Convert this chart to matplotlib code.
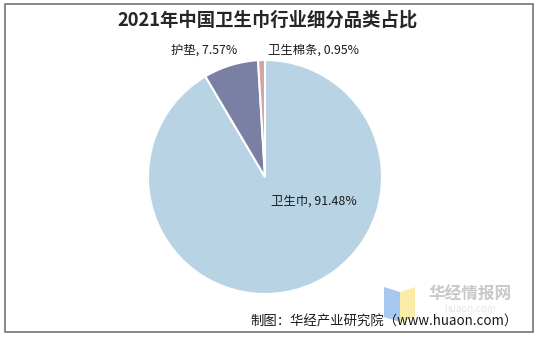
import matplotlib
matplotlib.use("Agg")
import matplotlib.pyplot as plt
from matplotlib.patches import Rectangle, Polygon

plt.rcParams['font.family'] = ['Noto Sans CJK SC', 'DejaVu Sans']

categories = ["卫生巾", "护垫", "卫生棉条"]
values = [91.48, 7.57, 0.95]
colors = ["#B8D3E4", "#7A80A3", "#D4A3A3"]
title = "2021年中国卫生巾行业细分品类占比"
source = "制图：华经产业研究院（www.huaon.com）"

W, H = 539, 342
fig = plt.figure(figsize=(W / 100, H / 100), dpi=100)

def fx(px):
    return px / W

def fy(py):
    return 1 - py / H

# border
fig.patches.append(Rectangle((fx(5), fy(332)), fx(533) - fx(5), fy(4) - fy(332),
                             transform=fig.transFigure, fill=False,
                             edgecolor="#7F7F7F", linewidth=1.3))

cx, cy, r = 265, 177, 117
ax = fig.add_axes([fx(cx - r), fy(cy + r), 2 * r / W, 2 * r / H])
wedges, _ = ax.pie(values, colors=colors, startangle=90, counterclock=False,
                   wedgeprops=dict(edgecolor="white", linewidth=1.5))
ax.set_aspect("equal")
ax.set_xlim(-1, 1)
ax.set_ylim(-1, 1)
ax.axis("off")

fig.text(fx(268), fy(20), title, ha="center", va="center", fontsize=13.2,
         fontweight="bold", color="#262626")

label_pos = [(314, 201), (204, 50), (314, 50)]
for cat, val, (px, py) in zip(categories, values, label_pos):
    fig.text(fx(px), fy(py), f"{cat}, {val:.2f}%", ha="center", va="center",
             fontsize=8.9, color="#1a1a1a")

# watermark logo
blue = Polygon([[fx(384), fy(287)], [fx(400), fy(292)], [fx(400), fy(322)], [fx(384), fy(317)]],
               closed=True, transform=fig.transFigure, facecolor="#9EC3F0", edgecolor="none", alpha=0.9)
yellow = Polygon([[fx(400), fy(292)], [fx(415), fy(287)], [fx(415), fy(317)], [fx(400), fy(322)]],
                 closed=True, transform=fig.transFigure, facecolor="#FBE9A0", edgecolor="none", alpha=0.9)
fig.patches.extend([blue, yellow])
fig.text(fx(470), fy(295), "华经情报网", ha="center", va="center", fontsize=12,
         fontweight="bold", color="#C8C8C8")
fig.text(fx(470), fy(309), "huaon.com", ha="center", va="center", fontsize=7,
         color="#E6E6E6")

fig.text(fx(384), fy(322), source, ha="center", va="center", fontsize=9.6,
         color="#1a1a1a")

fig.savefig("out.png", dpi=100)
